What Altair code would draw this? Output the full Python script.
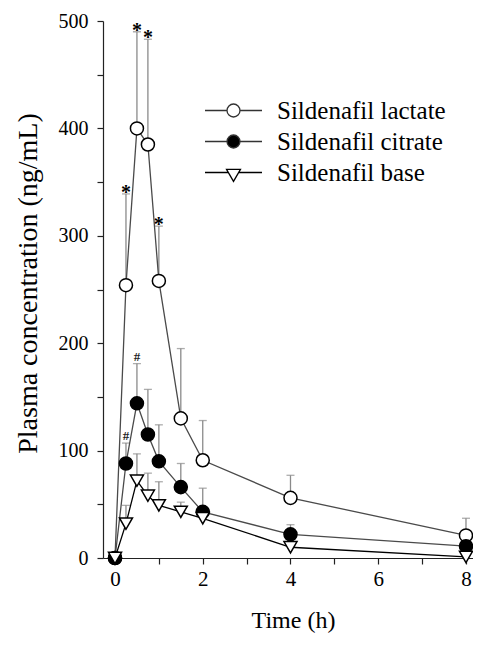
import altair as alt
import pandas as pd

time_h = [0, 0.25, 0.5, 0.75, 1, 1.5, 2, 4, 8]
series_names = ["Sildenafil lactate", "Sildenafil citrate", "Sildenafil base"]

lactate_mean = [0, 254, 400, 385, 258, 130, 91, 56, 21]
lactate_upper = [0, 339, 490, 483, 309, 195, 128, 77, 37]
citrate_mean = [0, 88, 144, 115, 90, 66, 43, 22, 11]
citrate_upper = [0, 107, 181, 157, 124, 88, 65, 31, 17]
base_mean = [0, 32, 72, 58, 49, 43, 37, 10, 1]
base_upper = [0, 49, 97, 79, 71, 52, 44, 14, 4]

star_times = [0.25, 0.5, 0.75, 1]      # lactate significance marks
hash_times = [0.25, 0.5]               # citrate significance marks

rows = []
for name, means, uppers in zip(series_names,
                               [lactate_mean, citrate_mean, base_mean],
                               [lactate_upper, citrate_upper, base_upper]):
    for t, m, u in zip(time_h, means, uppers):
        rows.append({"series": name, "t": t, "mean": m, "upper": u})
df = pd.DataFrame(rows)

stars = df[(df.series == series_names[0]) & (df.t.isin(star_times))]
hashes = df[(df.series == series_names[1]) & (df.t.isin(hash_times))]
errs = df[df.upper > df["mean"]]

FONT = "Liberation Serif"

xs = alt.Scale(domain=[-0.2735, 8.16], nice=False, zero=False)
ys = alt.Scale(domain=[0, 500], nice=False)

x_axis = alt.Axis(values=list(range(9)),
                  labelExpr="datum.value % 2 == 0 ? datum.label : ''",
                  title="Time (h)", grid=False, tickSize=6, labelFontSize=21,
                  labelPadding=4, titleFontSize=24, titleFontWeight="normal",
                  titleX=190, titleY=50, titleBaseline="top", titleAlign="center")
y_axis = alt.Axis(values=list(range(0, 501, 50)),
                  labelExpr="datum.value % 100 == 0 ? datum.label : ''",
                  title="Plasma concentration (ng/mL)", grid=False, tickSize=6,
                  labelFontSize=20, labelPadding=9, titleFontSize=28,
                  titleFontWeight="normal", titleX=-75, titleY=262,
                  titleAlign="center", titleBaseline="middle")

X = alt.X("t:Q", scale=xs, axis=x_axis)
Y = alt.Y("mean:Q", scale=ys, axis=y_axis)

err_rule = alt.Chart(errs).mark_rule(color="#8a8a8a", strokeWidth=1.3).encode(
    x=alt.X("t:Q", scale=xs), y=alt.Y("mean:Q", scale=ys), y2="upper:Q")
err_cap = alt.Chart(errs).mark_tick(orient="horizontal", size=8, thickness=1.3,
                                    color="#8a8a8a").encode(
    x=alt.X("t:Q", scale=xs), y=alt.Y("upper:Q", scale=ys))

lines = alt.Chart(df).mark_line().encode(
    x=X, y=Y,
    detail="series:N",
    color=alt.Color("series:N", scale=alt.Scale(domain=series_names,
                    range=["#4a4a4a", "#4a4a4a", "#000000"]), legend=None),
    strokeWidth=alt.StrokeWidth("series:N", scale=alt.Scale(domain=series_names,
                    range=[1.3, 1.3, 2.0]), legend=None),
)

points = alt.Chart(df).mark_point(filled=True, stroke="black", strokeWidth=1.5,
                                  opacity=1).encode(
    x=X, y=Y,
    shape=alt.Shape("series:N", scale=alt.Scale(domain=series_names,
                    range=["circle", "circle", "triangle-down"]), legend=None),
    fill=alt.Fill("series:N", scale=alt.Scale(domain=series_names,
                  range=["white", "black", "white"]), legend=None),
    size=alt.Size("series:N", scale=alt.Scale(domain=series_names,
                  range=[170, 170, 190]), legend=None),
)

star_txt = alt.Chart(stars).mark_text(text="*", font=FONT, fontSize=20,
                                      fontWeight="bold", baseline="alphabetic",
                                      dy=5, color="black").encode(
    x=alt.X("t:Q", scale=xs), y=alt.Y("upper:Q", scale=ys))
hash_txt = alt.Chart(hashes).mark_text(text="#", font=FONT, fontSize=13,
                                       fontWeight="bold", baseline="alphabetic",
                                       dy=-3, color="#222").encode(
    x=alt.X("t:Q", scale=xs), y=alt.Y("upper:Q", scale=ys))

circle_path = "M-4,0L-0.91,0M0.91,0L4,0M-0.91,0A0.91,0.91,0,1,1,0.91,0A0.91,0.91,0,1,1,-0.91,0Z"
tri_path = "M-4,0L-0.72,0M0.72,0L4,0M-0.98,-0.45L0.98,-0.45L0,1.25Z"

leg = alt.Legend(title=None, orient="none", legendX=118, legendY=77,
                 labelFont=FONT, labelFontSize=25, labelColor="black",
                 labelLimit=400, symbolSize=203, symbolStrokeWidth=1.3,
                 symbolOpacity=1, labelOffset=31, rowPadding=5)

legend_layer = alt.Chart(df).transform_filter("datum.t < 0").mark_point(
    filled=False, strokeWidth=1.3, size=203).encode(
    x=alt.X("t:Q", scale=xs), y=alt.Y("mean:Q", scale=ys),
    shape=alt.Shape("series:N", scale=alt.Scale(domain=series_names,
                    range=[circle_path, circle_path, tri_path]), legend=leg),
    fill=alt.Fill("series:N", scale=alt.Scale(domain=series_names,
                  range=["white", "black", "white"]), legend=leg),
    stroke=alt.Stroke("series:N", scale=alt.Scale(domain=series_names,
                      range=["#333333", "#333333", "#000000"]), legend=leg),
)

chart = alt.layer(err_rule, err_cap, lines, points, star_txt, hash_txt,
                  legend_layer).resolve_scale(
    shape="independent", fill="independent", stroke="independent"
).properties(
    width=370, height=537,
    padding={"left": 95, "top": 13, "right": 0, "bottom": 75},
    autosize=alt.AutoSizeParams(type="none"),
    background="white",
).configure_view(stroke=None).configure_axis(
    labelFont=FONT, titleFont=FONT, labelColor="black", titleColor="black",
    domainColor="#222", tickColor="#222", domainWidth=1.2, tickWidth=1.2,
)

chart.save("out.html", embed_options={"renderer": "svg", "actions": False})
